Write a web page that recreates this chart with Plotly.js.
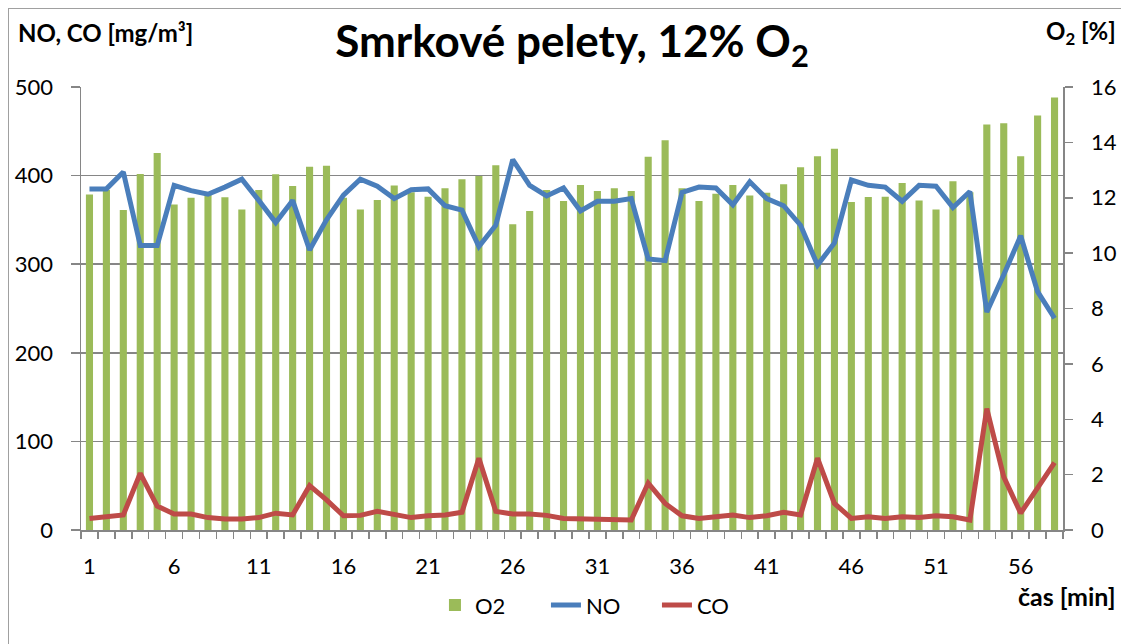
<!DOCTYPE html>
<html>
<head>
<meta charset="utf-8">
<script src="https://cdn.plot.ly/plotly-3.0.1.min.js"></script>
<style>
html,body{margin:0;padding:0;background:#fff;}
#chart{position:absolute;left:0;top:0;width:1121px;height:644px;}
#frame{position:absolute;left:8px;top:8px;width:1200px;height:700px;border-left:1.5px solid #a0a0a0;border-top:1.5px solid #a0a0a0;pointer-events:none;}
</style>
</head>
<body>
<div id="chart"></div>
<div id="frame"></div>
<script>
const minutes = Array.from({length:58},(_,i)=>i+1);
const tickLabels = ['1','6','11','16','21','26','31','36','41','46','51','56'];
const o2 = [12.12,12.28,11.56,12.86,13.62,11.76,12.0,12.1,12.02,11.58,
            12.28,12.85,12.42,13.12,13.16,12.0,11.58,11.92,12.44,12.2,
            12.04,12.34,12.67,12.79,13.17,11.04,11.52,12.28,11.88,12.46,
            12.24,12.34,12.24,13.48,14.08,12.34,11.88,12.14,12.46,12.08,
            12.18,12.49,13.1,13.5,13.77,11.85,12.03,12.04,12.53,11.9,
            11.58,12.6,12.2,14.65,14.69,13.5,14.97,15.62];
const no = [385,385,404,321,321,389,383,379,387,396,
            372,347,372,316,350,378,396,388,374,384,
            385,366,361,320,344,418,389,377,386,360,
            371,371,374,306,304,381,387,386,367,393,
            374,366,344,299,324,395,389,387,371,389,
            388,364,382,246,288,332,269,239];
const co = [13,15,17,64,27,18,18,14,12.4,12.4,
            14,19,17,50,34,16,16.5,21,17,14,
            16,17,20,81,21,18,18,16.5,13,12.8,
            11.3,12,11.3,53,30,16,13,15,17,14,
            16,20,17,81,30,13,15,13,15,14,
            16,15,11.3,137,60,19,48,76];

const FONT = 'Lato, "Open Sans", sans-serif';
const GREY = '#868686';
const boundaries = Array.from({length:59},(_,i)=>i+0.5);

const data = [
  {type:'bar', name:'O2', x:minutes, y:o2, xaxis:'x', yaxis:'y',
   marker:{color:'#9BBB59'}, width:0.42},
  {type:'scatter', mode:'lines', name:'NO', x:minutes, y:no, xaxis:'x2', yaxis:'y2',
   line:{color:'#4A7EBB', width:5}},
  {type:'scatter', mode:'lines', name:'CO', x:minutes, y:co, xaxis:'x2', yaxis:'y2',
   line:{color:'#BE4B48', width:5}}
];

const layout = {
  width:1121, height:644,
  margin:{l:81, r:58, t:87, b:114},
  paper_bgcolor:'rgba(0,0,0,0)', plot_bgcolor:'rgba(0,0,0,0)',
  font:{family:FONT, size:21, color:'#000'},
  showlegend:true,
  legend:{orientation:'h', x:0.53, xanchor:'center', xref:'paper', y:-0.17, yanchor:'middle',
          font:{family:FONT, size:22}, traceorder:'normal', entrywidth:66, entrywidthmode:'pixels'},
  xaxis:{range:[0.5,58.5], tickvals:boundaries, ticktext:boundaries.map(()=>''), ticks:'outside',
         ticklen:7, tickcolor:GREY, tickwidth:1.5, showline:true, linecolor:GREY, linewidth:1.5,
         showgrid:false, zeroline:false, fixedrange:true},
  xaxis2:{range:[0.5,58.5], overlaying:'x', anchor:'y', side:'bottom', tickvals:tickLabels.map(Number), ticktext:tickLabels,
          ticks:'outside', ticklen:17, tickcolor:'rgba(0,0,0,0)', showline:false, showgrid:false, zeroline:false,
          tickfont:{family:FONT, size:22}},
  yaxis:{range:[0,16], dtick:2, side:'right', ticks:'outside', ticklen:8, tickcolor:GREY, tickwidth:1.5,
         showline:true, linecolor:GREY, linewidth:1.5, showgrid:false, zeroline:false,
         ticklabelstandoff:14, tickfont:{family:FONT, size:22}},
  yaxis2:{range:[0,500], dtick:100, side:'left', overlaying:'y', anchor:'x', ticks:'outside', ticklen:9,
          tickcolor:GREY, tickwidth:1.5, showline:true, linecolor:GREY, linewidth:1.5,
          showgrid:true, gridcolor:GREY, gridwidth:1.5, zeroline:false,
          ticklabelstandoff:13, tickfont:{family:FONT, size:22}},
  title:{text:'Smrkové pelety, 12% O<sub>2</sub>', font:{family:FONT, size:44, weight:'bold'},
         x:0.5, xref:'paper', xanchor:'center', y:0.935, yref:'container', yanchor:'middle'},
  annotations:[
    {text:'NO, CO [mg/m³]', xref:'paper', yref:'paper', x:-0.066, xanchor:'left', y:1.122, yanchor:'middle',
     showarrow:false, font:{family:FONT, size:24, weight:'bold'}},
    {text:'O<sub>2</sub> [%]', xref:'paper', yref:'paper', x:1.056, xanchor:'right', y:1.122, yanchor:'middle',
     showarrow:false, font:{family:FONT, size:24, weight:'bold'}},
    {text:'čas [min]', xref:'paper', yref:'paper', x:1.056, xanchor:'right', y:-0.15, yanchor:'middle',
     showarrow:false, font:{family:FONT, size:25, weight:'bold'}}
  ]
};

Plotly.newPlot('chart', data, layout, {displayModeBar:false, staticPlot:true});
</script>
</body>
</html>
